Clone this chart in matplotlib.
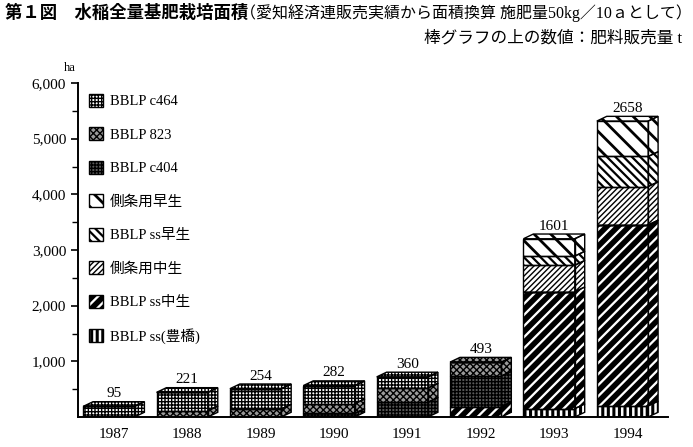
import matplotlib
matplotlib.use('Agg')
import matplotlib.pyplot as plt
from matplotlib.patches import Polygon, Patch
from matplotlib.legend_handler import HandlerPatch
import numpy as np

plt.rcParams['font.family'] = ['Liberation Serif', 'Noto Sans CJK JP']
plt.rcParams['hatch.linewidth'] = 1.2

# data (ha); total = 2 * sales
years = ['1987', '1988', '1989', '1990', '1991', '1992', '1993', '1994']
sales_t = [95, 221, 254, 282, 360, 493, 1601, 2658]

ss_toyohashi = [0, 0, 0, 0, 0, 0, 150, 200]
ss_naka = [0, 0, 0, 0, 0, 186, 2100, 3250]
c404 = [0, 0, 0, 64, 265, 550, 0, 0]
b823 = [0, 112, 143, 175, 255, 250, 0, 0]
c464 = [190, 330, 365, 325, 200, 0, 0, 0]
sokujo_naka = [0, 0, 0, 0, 0, 0, 476, 690]
ss_wase = [0, 0, 0, 0, 0, 0, 165, 540]
sokujo_wase = [0, 0, 0, 0, 0, 0, 311, 636]

# stacking order, bottom to top
stack = [
    ('BBLP ss(豊橋)', ss_toyohashi),
    ('BBLP ss中生', ss_naka),
    ('BBLP c404', c404),
    ('BBLP 823', b823),
    ('BBLP c464', c464),
    ('側条用中生', sokujo_naka),
    ('BBLP ss早生', ss_wase),
    ('側条用早生', sokujo_wase),
]
legend_order = ['BBLP c464', 'BBLP 823', 'BBLP c404', '側条用早生',
                'BBLP ss早生', '側条用中生', 'BBLP ss中生', 'BBLP ss(豊橋)']

# facecolor, hatch, hatch linewidth
styles = {
    'BBLP c464': ('white', '+++++', 1.0),
    'BBLP 823': ('#9a9a9a', 'xxxxx', 1.0),
    'BBLP c404': ('#5a5a5a', '+++++', 1.0),
    '側条用早生': ('white', '\\\\', 2.0),
    'BBLP ss早生': ('white', '\\\\\\\\', 1.6),
    '側条用中生': ('white', '//////', 1.0),
    'BBLP ss中生': ('white', '///', 4.0),
    'BBLP ss(豊橋)': ('white', '|||', 2.2),
}

def set_hlw(p, lw):
    if hasattr(p, 'set_hatch_linewidth'):
        p.set_hatch_linewidth(lw)

class HatchHandler(HandlerPatch):
    # legend copies lose the per-patch hatch width, put it back
    def create_artists(self, legend, orig_handle, xdescent, ydescent,
                       width, height, fontsize, trans):
        arts = super().create_artists(legend, orig_handle, xdescent, ydescent,
                                      width, height, fontsize, trans)
        for a in arts:
            set_hlw(a, getattr(orig_handle, 'hlw', 1.0))
        return arts

fig = plt.figure(figsize=(6.93, 4.47), dpi=100)
ax = fig.add_axes([78/693, 30/447, 590/693, 334/447])

w = 0.7      # front face width
dx = 0.135   # depth in x
dy = 85      # depth in y (ha)
x = np.arange(len(years))

def face(xy, name):
    fc, hatch, hlw = styles[name]
    with plt.rc_context({'hatch.linewidth': hlw}):
        p = Polygon(xy, closed=True, facecolor=fc, edgecolor='black',
                    hatch=hatch, linewidth=0, zorder=2)
    set_hlw(p, hlw)
    ax.add_patch(p)
    ax.add_patch(Polygon(xy, closed=True, fill=False, edgecolor='black',
                         linewidth=1.0, zorder=3))

bottom = np.zeros(len(years))
top_name = [None] * len(years)
for name, vals in stack:
    vals = np.array(vals, dtype=float)
    fc, hatch, hlw = styles[name]
    for i in range(len(years)):
        if vals[i] <= 0:
            continue
        x0 = x[i] - w/2
        y0 = bottom[i]
        y1 = y0 + vals[i]
        # side face
        face([(x0 + w, y0), (x0 + w + dx, y0 + dy),
              (x0 + w + dx, y1 + dy), (x0 + w, y1)], name)
        top_name[i] = name
    with plt.rc_context({'hatch.linewidth': hlw}):
        bars = ax.bar(x - w/2, vals, w, bottom=bottom, align='edge', color=fc,
                      edgecolor='black', hatch=hatch, linewidth=0, zorder=2)
    for b in bars:
        set_hlw(b, hlw)
    ax.bar(x - w/2, vals, w, bottom=bottom, align='edge', fill=False,
           edgecolor='black', linewidth=1.0, zorder=3)
    bottom = bottom + vals

# top faces and sales labels
for i in range(len(years)):
    x0 = x[i] - w/2
    t = bottom[i]
    face([(x0, t), (x0 + w, t), (x0 + w + dx, t + dy), (x0 + dx, t + dy)],
         top_name[i])
    ax.annotate(str(sales_t[i]), (x[i] + dx/2, t + dy), xytext=(0, 1),
                textcoords='offset points', ha='center', va='bottom',
                fontsize=11)

ax.set_xlim(-0.42, 7.62)
ax.set_ylim(0, 6000)
ax.set_xticks(x + dx/2)
ax.set_xticklabels(years, fontsize=11)
ax.tick_params(axis='x', length=0, pad=8)
ax.set_yticks(np.arange(1000, 6001, 1000))
ax.set_yticklabels([f'{v:,}' for v in range(1000, 6001, 1000)], fontsize=11)
ax.set_yticks(np.arange(500, 6000, 1000), minor=True)
ax.tick_params(axis='y', which='major', length=5, width=1.2, direction='out')
ax.tick_params(axis='y', which='minor', length=4, width=1.0, direction='out')
for s in ['top', 'right']:
    ax.spines[s].set_visible(False)
ax.spines['left'].set_linewidth(1.4)
ax.spines['bottom'].set_linewidth(1.4)
ax.text(-0.014, 1.045, 'ha', transform=ax.transAxes, ha='center',
        va='center', fontsize=9)

handles = []
for name in legend_order:
    fc, hatch, hlw = styles[name]
    h = Patch(facecolor=fc, edgecolor='black', hatch=hatch,
              linewidth=1.0, label=name)
    h.hlw = hlw
    handles.append(h)
ax.legend(handles=handles, loc='upper left', bbox_to_anchor=(0.008, 0.985),
          frameon=False, fontsize=10.5, handlelength=1.0, handleheight=1.0,
          handletextpad=0.45, labelspacing=1.3, borderaxespad=0,
          handler_map={Patch: HatchHandler()})

fig.text(5/693, 1 - 13/447, '第１図　水稲全量基肥栽培面積',
         family='Noto Sans CJK JP', fontweight='bold', fontsize=12.5,
         va='center', ha='left')
fig.text(240/693, 1 - 13/447,
         '（愛知経済連販売実績から面積換算 施肥量50kg／10ａとして）',
         fontsize=11.5, va='center', ha='left')
fig.text(682/693, 1 - 38/447, '棒グラフの上の数値：肥料販売量 t',
         fontsize=12, va='center', ha='right')

fig.savefig('out.png', dpi=100)
